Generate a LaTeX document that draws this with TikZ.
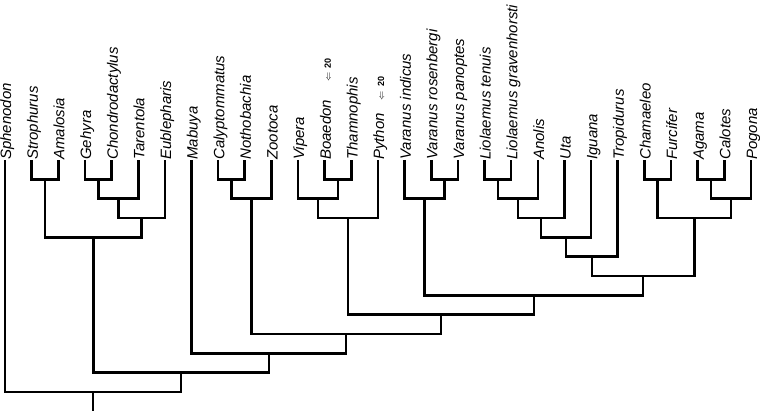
\documentclass[tikz,border=0pt]{standalone}
\usepackage{amsmath}
\usepackage{amssymb}
\usepackage{fontspec}
\usepackage{tikz}
\newfontfamily\taxfont{Liberation Sans}

\begin{document}
\begin{tikzpicture}[
		x=26.64pt, y=-19.33pt,
		tip/.style={shape=coordinate, label distance=9pt},
		taxon/.style={rotate=90, anchor=north west, inner sep=0pt, text height=6pt, font=\taxfont\itshape\fontsize{15}{17}\selectfont},
		branch/.style={line width=2.6pt}
	]
  \useasboundingbox (-0.1877, -8.277) rectangle (28.341, 13.14);
  % tips
  \node (sphenodon) [tip, label={[taxon]above:Sphenodon}] at (0, 0) {};
  \node (strophurus) [tip, label={[taxon]above:Strophurus}] at (1, 0) {};
  \node (amalosia) [tip, label={[taxon]above:Amalosia}] at (2, 0) {};
  \node (gehyra) [tip, label={[taxon]above:Gehyra}] at (3, 0) {};
  \node (chondrodactylus) [tip, label={[taxon]above:Chondrodactylus}] at (4, 0) {};
  \node (tarentola) [tip, label={[taxon]above:Tarentola}] at (5, 0) {};
  \node (eublepharis) [tip, label={[taxon]above:Eublepharis}] at (6, 0) {};
  \node (mabuya) [tip, label={[taxon]above:Mabuya}] at (7, 0) {};
  \node (calyptommatus) [tip, label={[taxon]above:Calyptommatus}] at (8, 0) {};
  \node (nothobachia) [tip, label={[taxon]above:Nothobachia}] at (9, 0) {};
  \node (zootoca) [tip, label={[taxon]above:Zootoca}] at (10, 0) {};
  \node (vipera) [tip, label={[taxon]above:Vipera}] at (11, 0) {};
  \node (boaedon) [tip, label={[taxon]above:{Boaedon\hspace{18pt}{\upshape\fontsize{9}{10}\selectfont$\Leftarrow$\hspace{4pt}\textbf{20}}}}] at (12, 0) {};
  \node (thamnophis) [tip, label={[taxon]above:Thamnophis}] at (13, 0) {};
  \node (python) [tip, label={[taxon]above:{Python\hspace{13pt}{\upshape\fontsize{9}{10}\selectfont$\Leftarrow$\hspace{4pt}\textbf{20}}}}] at (14, 0) {};
  \node (v_indicus) [tip, label={[taxon]above:Varanus indicus}] at (15, 0) {};
  \node (v_rosenbergi) [tip, label={[taxon]above:Varanus rosenbergi}] at (16, 0) {};
  \node (v_panoptes) [tip, label={[taxon]above:Varanus panoptes}] at (17, 0) {};
  \node (l_tenuis) [tip, label={[taxon]above:Liolaemus tenuis}] at (18, 0) {};
  \node (l_gravenhorsti) [tip, label={[taxon]above:Liolaemus gravenhorsti}] at (19, 0) {};
  \node (anolis) [tip, label={[taxon]above:Anolis}] at (20, 0) {};
  \node (uta) [tip, label={[taxon]above:Uta}] at (21, 0) {};
  \node (iguana) [tip, label={[taxon]above:Iguana}] at (22, 0) {};
  \node (tropidurus) [tip, label={[taxon]above:Tropidurus}] at (23, 0) {};
  \node (chamaeleo) [tip, label={[taxon]above:Chamaeleo}] at (24, 0) {};
  \node (furcifer) [tip, label={[taxon]above:Furcifer}] at (25, 0) {};
  \node (agama) [tip, label={[taxon]above:Agama}] at (26, 0) {};
  \node (calotes) [tip, label={[taxon]above:Calotes}] at (27, 0) {};
  \node (pogona) [tip, label={[taxon]above:Pogona}] at (28, 0) {};
  % inner nodes
  \coordinate (stro_amal) at (1.5, 1);
  \coordinate (geh_cho) at (3.5, 1);
  \coordinate (geh_tar) at (4.25, 2);
  \coordinate (geh_eub) at (5.125, 3);
  \coordinate (gekkota) at (3.3125, 4);
  \coordinate (cal_not) at (8.5, 1);
  \coordinate (cal_zoo) at (9.25, 2);
  \coordinate (boa_tha) at (12.5, 1);
  \coordinate (vip_boa) at (11.75, 2);
  \coordinate (serpentes) at (12.875, 3);
  \coordinate (ros_pan) at (16.5, 1);
  \coordinate (varanus) at (15.75, 2);
  \coordinate (lio) at (18.5, 1);
  \coordinate (lio_ano) at (19.25, 2);
  \coordinate (lio_uta) at (20.125, 3);
  \coordinate (lio_igu) at (21.0625, 4);
  \coordinate (pleurodonta) at (22.031, 5);
  \coordinate (cha_fur) at (24.5, 1);
  \coordinate (aga_cal) at (26.5, 1);
  \coordinate (aga_pog) at (27.25, 2);
  \coordinate (acrodonta) at (25.875, 3);
  \coordinate (iguania) at (23.953, 6);
  \coordinate (var_igu) at (19.852, 7);
  \coordinate (toxicofera) at (16.363, 8);
  \coordinate (lac_tox) at (12.807, 9);
  \coordinate (mab_lac) at (9.903, 10);
  \coordinate (squamata) at (6.608, 11);
  \coordinate (root) at (3.304, 12);
  \coordinate (root_base) at (3.304, 13);
  % branches
  \draw [branch] (strophurus) |- (stro_amal) -| (amalosia);
  \draw [branch] (gehyra) |- (geh_cho) -| (chondrodactylus);
  \draw [branch] (geh_cho) |- (geh_tar) -| (tarentola);
  \draw [branch] (geh_tar) |- (geh_eub) -| (eublepharis);
  \draw [branch] (stro_amal) |- (gekkota) -| (geh_eub);
  \draw [branch] (calyptommatus) |- (cal_not) -| (nothobachia);
  \draw [branch] (cal_not) |- (cal_zoo) -| (zootoca);
  \draw [branch] (boaedon) |- (boa_tha) -| (thamnophis);
  \draw [branch] (vipera) |- (vip_boa) -| (boa_tha);
  \draw [branch] (vip_boa) |- (serpentes) -| (python);
  \draw [branch] (v_rosenbergi) |- (ros_pan) -| (v_panoptes);
  \draw [branch] (v_indicus) |- (varanus) -| (ros_pan);
  \draw [branch] (l_tenuis) |- (lio) -| (l_gravenhorsti);
  \draw [branch] (lio) |- (lio_ano) -| (anolis);
  \draw [branch] (lio_ano) |- (lio_uta) -| (uta);
  \draw [branch] (lio_uta) |- (lio_igu) -| (iguana);
  \draw [branch] (lio_igu) |- (pleurodonta) -| (tropidurus);
  \draw [branch] (chamaeleo) |- (cha_fur) -| (furcifer);
  \draw [branch] (agama) |- (aga_cal) -| (calotes);
  \draw [branch] (aga_cal) |- (aga_pog) -| (pogona);
  \draw [branch] (cha_fur) |- (acrodonta) -| (aga_pog);
  \draw [branch] (pleurodonta) |- (iguania) -| (acrodonta);
  \draw [branch] (varanus) |- (var_igu) -| (iguania);
  \draw [branch] (serpentes) |- (toxicofera) -| (var_igu);
  \draw [branch] (cal_zoo) |- (lac_tox) -| (toxicofera);
  \draw [branch] (mabuya) |- (mab_lac) -| (lac_tox);
  \draw [branch] (gekkota) |- (squamata) -| (mab_lac);
  \draw [branch] (sphenodon) |- (root) -| (squamata);
  \draw [branch] (root) -- (root_base);
\end{tikzpicture}
\end{document}
